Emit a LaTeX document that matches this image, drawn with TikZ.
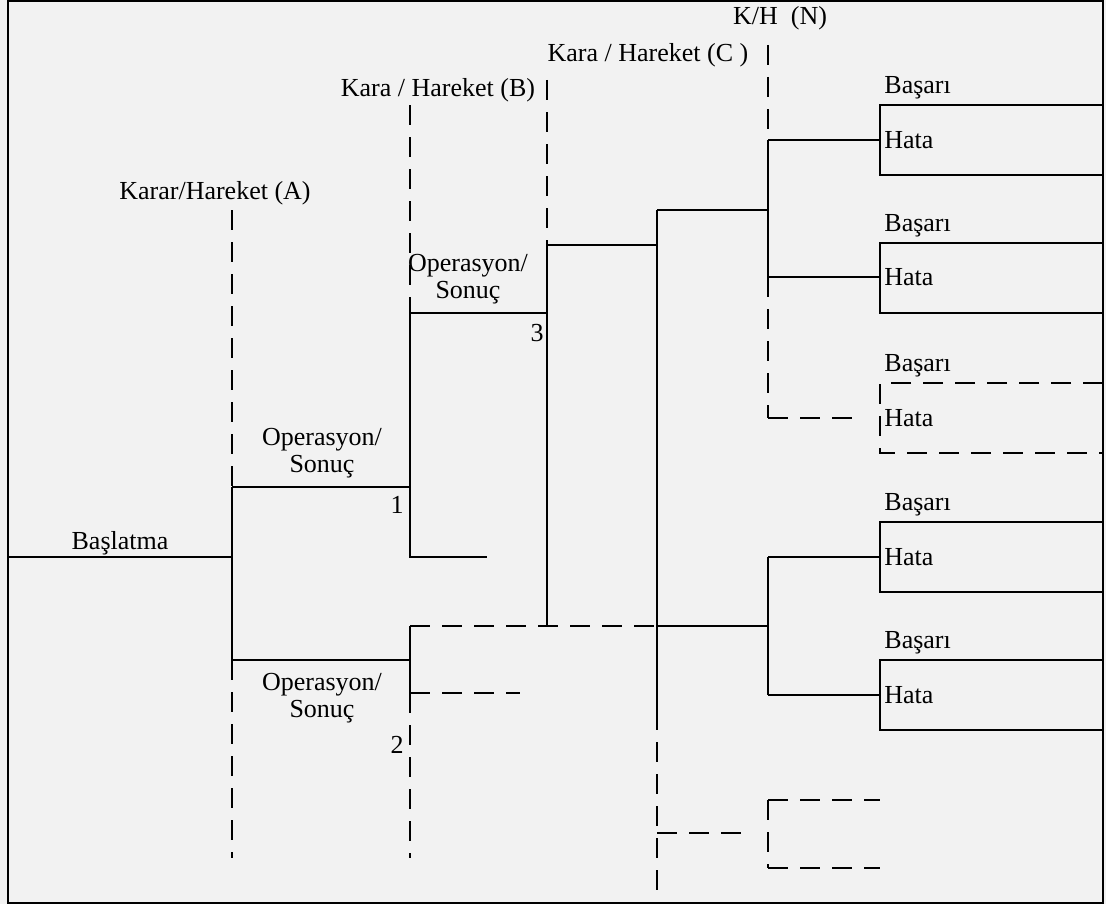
\documentclass[tikz,border=0pt]{standalone}
\usepackage{fontspec}
\setmainfont{Liberation Serif}
\usetikzlibrary{positioning}
\usepackage{xcolor}
\definecolor{pagegray}{HTML}{F2F2F2}

\begin{document}
\begin{tikzpicture}[x=0.5pt, y=-0.5pt, font=\fontsize{13}{13.8}\selectfont,
    branch/.style={line width=1.2pt},
    decline/.style={line width=1.2pt, dash pattern=on 10pt off 6pt},
    lbl/.style={inner sep=0pt, align=center},
    leftlbl/.style={inner sep=0pt, anchor=west}]
  \fill[pagegray] (0,0) rectangle (1106,904);
  \useasboundingbox (0,0) rectangle (1106,904);
  \draw[line width=1pt] (8,1.5) rectangle (1103,903);

  % junctions
  \coordinate (start) at (8,557);
  \coordinate (a0) at (232,557);
  \coordinate (a1) at (232,487);
  \coordinate (a2) at (232,660);
  \coordinate (b1) at (410,487);
  \coordinate (b1t) at (410,313);
  \coordinate (b1b) at (410,557);
  \coordinate (b2) at (410,660);
  \coordinate (b2t) at (410,626);
  \coordinate (b2b) at (410,693);
  \coordinate (c3) at (547,313);
  \coordinate (c3t) at (547,245);
  \coordinate (c3b) at (547,626);
  \coordinate (n1) at (657,245);
  \coordinate (n1t) at (657,210);
  \coordinate (n1m) at (657,626);
  \coordinate (n1b) at (657,710);
  \coordinate (k1t) at (768,210);
  \coordinate (k1) at (768,140);
  \coordinate (k2) at (768,277);
  \coordinate (k3) at (768,418);
  \coordinate (k4m) at (768,626);
  \coordinate (k4) at (768,557);
  \coordinate (k5) at (768,695);
  \coordinate (k6t) at (768,800);
  \coordinate (k6b) at (768,868);

  % decision lines
  \draw[decline] (232,210) -- (a1);
  \draw[decline] (a2) -- (232,858);
  \draw[decline] (410,105) -- (b1t);
  \draw[decline] (b2b) -- (410,858);
  \draw[decline] (547,80) -- (c3t);
  \draw[decline] (768,45) -- (k1);
  \node[lbl] (decA) at (215,193) {Karar/Hareket (A)};
  \node[lbl] (decB) at (438,90) {Kara / Hareket (B)};
  \node[lbl] (decC) at (648,55) {Kara / Hareket (C )};
  \node[lbl] (decN) at (780,18) {K/H\ \ (N)};

  % tree
  \draw[branch] (start) -- (a0);
  \node[lbl] (init) at (120,543) {Başlatma};
  \draw[branch] (a1) -- (a2);
  \draw[branch] (a1) -- (b1);
  \draw[branch] (a2) -- (b2);
  \node[lbl] (op1) at (322,453) {Operasyon/\\Sonuç};
  \node[lbl] (op2) at (322,698) {Operasyon/\\Sonuç};
  \node[lbl] (n1lbl) at (397,505) {1};
  \node[lbl] (n2lbl) at (397,745) {2};
  \draw[branch] (b1t) -- (b1b) -- ++(77,0);
  \draw[branch] (b1t) -- (c3);
  \node[lbl] (op3) at (468,279) {Operasyon/\\Sonuç};
  \node[lbl] (n3lbl) at (537,333) {3};
  \draw[branch] (b2t) -- (b2b);
  \draw[decline] (b2t) -- (n1m);
  \draw[decline] (b2b) -- ++(110,0);
  \draw[branch] (c3t) -- (c3b);
  \draw[branch] (c3t) -- (n1);
  \draw[branch] (n1t) -- (n1b);
  \draw[decline] (n1b) -- (657,903);
  \draw[decline] (657,833) -- ++(95,0);
  \draw[branch] (n1t) -- (k1t);
  \draw[branch] (k1) -- (k2);
  \draw[decline] (k2) -- (k3);
  \draw[branch] (n1m) -- (k4m);
  \draw[branch] (k4) -- (k5);
  \draw[decline] (k6t) -- (k6b);
  \draw[decline] (k6t) -- ++(112,0);
  \draw[decline] (k6b) -- ++(112,0);

  % outcomes
  \draw[branch] (k1) -- (880,140);
  \draw[branch] (1103,105) -- (880,105) -- (880,175) -- (1103,175);
  \draw[branch] (k2) -- (880,277);
  \draw[branch] (1103,243) -- (880,243) -- (880,313) -- (1103,313);
  \draw[decline] (k3) -- (860,418);
  \draw[decline] (1103,383) -- (880,383) -- (880,453) -- (1103,453);
  \draw[branch] (k4) -- (880,557);
  \draw[branch] (1103,522) -- (880,522) -- (880,592) -- (1103,592);
  \draw[branch] (k5) -- (880,695);
  \draw[branch] (1103,660) -- (880,660) -- (880,730) -- (1103,730);

  \node[leftlbl] (ok1) at (884,88) {Başarı};
  \node[leftlbl] (err1) at (884,140) {Hata};
  \node[leftlbl] (ok2) at (884,226) {Başarı};
  \node[leftlbl] (err2) at (884,277) {Hata};
  \node[leftlbl] (ok3) at (884,366) {Başarı};
  \node[leftlbl] (err3) at (884,418) {Hata};
  \node[leftlbl] (ok4) at (884,505) {Başarı};
  \node[leftlbl] (err4) at (884,557) {Hata};
  \node[leftlbl] (ok5) at (884,643) {Başarı};
  \node[leftlbl] (err5) at (884,695) {Hata};
\end{tikzpicture}
\end{document}
